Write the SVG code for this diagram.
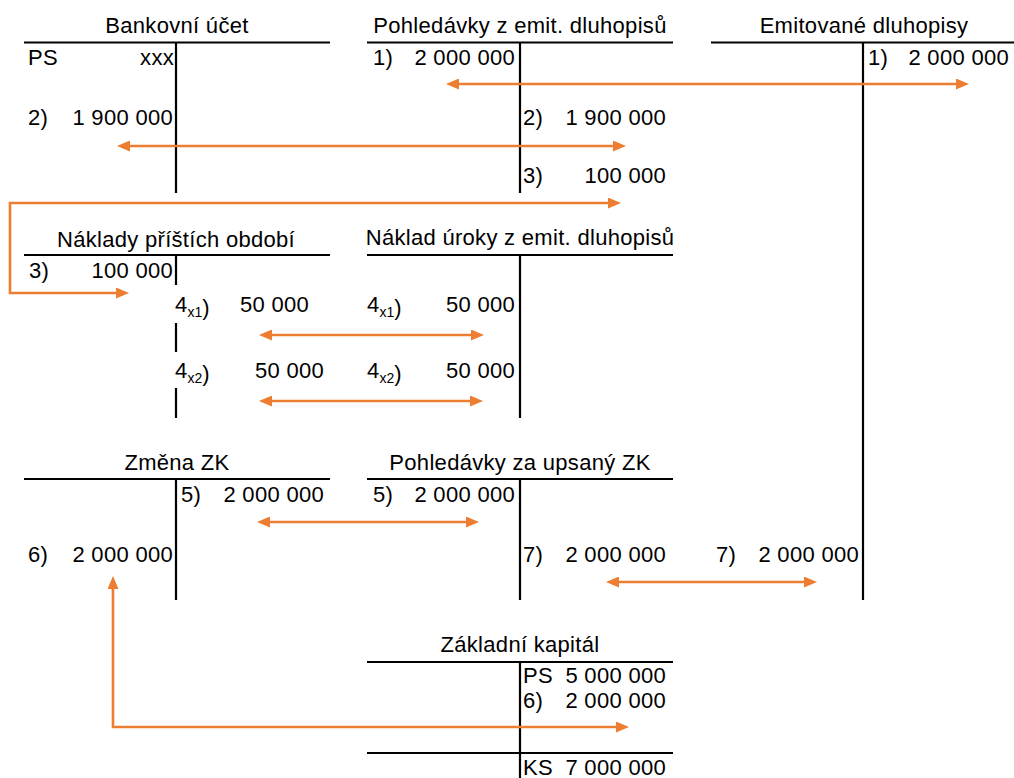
<svg xmlns="http://www.w3.org/2000/svg" width="1014" height="778" viewBox="0 0 1014 778">
<style>
text{font-family:"Liberation Sans",Arial,sans-serif;font-size:22px;fill:#000;letter-spacing:0.3px}
.t{text-anchor:middle}
.r{text-anchor:end}
.sub{font-size:14px;letter-spacing:0}
.k{stroke:#000;stroke-width:2.2;fill:none}
.a{stroke:#ED7D31;stroke-width:2.6;fill:none;marker-start:url(#ah);marker-end:url(#ah)}
</style>
<defs>
<marker id="ah" markerUnits="userSpaceOnUse" markerWidth="13" markerHeight="11" refX="4" refY="5.5" orient="auto-start-reverse">
<path d="M0,0 L13,5.5 L0,11 z" fill="#ED7D31"/>
</marker>
</defs>
<rect width="1014" height="778" fill="#fff"/>

<g id="bankovni-ucet">
<text class="t" x="177" y="33">Bankovní účet</text>
<path class="k" d="M24,42.5 H330 M176,42.5 V193"/>
<text x="28" y="65">PS</text>
<text class="r" x="174" y="65">xxx</text>
<text x="28" y="125">2)</text>
<text class="r" x="173" y="125">1 900 000</text>
</g>

<g id="pohledavky-z-emit">
<text class="t" x="520" y="33">Pohledávky z emit. dluhopisů</text>
<path class="k" d="M367,42.5 H673 M520,42.5 V193"/>
<text x="373" y="65">1)</text>
<text class="r" x="515" y="65">2 000 000</text>
<text x="523" y="125">2)</text>
<text class="r" x="666" y="125">1 900 000</text>
<text x="523" y="183">3)</text>
<text class="r" x="666" y="183">100 000</text>
</g>

<g id="emitovane-dluhopisy">
<text class="t" x="864" y="33">Emitované dluhopisy</text>
<path class="k" d="M711,42.5 H1014 M863,42.5 V600"/>
<text x="868" y="65">1)</text>
<text class="r" x="1009" y="65">2 000 000</text>
</g>

<g id="naklady-pristich-obdobi">
<text class="t" x="176" y="247">Náklady příštích období</text>
<path class="k" d="M24,255 H330 M176,255 V285 M176,323 V352 M176,388 V418"/>
<text x="29" y="278">3)</text>
<text class="r" x="173" y="278">100 000</text>
<text x="175" y="312">4<tspan class="sub" dy="5">x1</tspan><tspan dy="-2">)</tspan></text>
<text class="r" x="309" y="312">50 000</text>
<text x="175" y="378">4<tspan class="sub" dy="5">x2</tspan><tspan dy="-2">)</tspan></text>
<text class="r" x="324" y="378">50 000</text>
</g>

<g id="naklad-uroky">
<text class="t" x="520" y="245">Náklad úroky z emit. dluhopisů</text>
<path class="k" d="M367,255 H673 M520,255 V418"/>
<text x="367" y="312">4<tspan class="sub" dy="5">x1</tspan><tspan dy="-2">)</tspan></text>
<text class="r" x="515" y="312">50 000</text>
<text x="367" y="378">4<tspan class="sub" dy="5">x2</tspan><tspan dy="-2">)</tspan></text>
<text class="r" x="515" y="378">50 000</text>
</g>

<g id="zmena-zk">
<text class="t" x="177" y="470">Změna ZK</text>
<path class="k" d="M24,479 H330 M176,479 V600"/>
<text x="181" y="502">5)</text>
<text class="r" x="324" y="502">2 000 000</text>
<text x="28" y="562">6)</text>
<text class="r" x="173" y="562">2 000 000</text>
</g>

<g id="pohledavky-za-upsany-zk">
<text class="t" x="520" y="470">Pohledávky za upsaný ZK</text>
<path class="k" d="M367,479 H673 M520,479 V600"/>
<text x="373" y="502">5)</text>
<text class="r" x="515" y="502">2 000 000</text>
<text x="523" y="562">7)</text>
<text class="r" x="666" y="562">2 000 000</text>
</g>

<g id="emitovane-dluhopisy-7">
<text x="716" y="562">7)</text>
<text class="r" x="859" y="562">2 000 000</text>
</g>

<g id="zakladni-kapital">
<text class="t" x="520" y="652">Základní kapitál</text>
<path class="k" d="M367,662 H673 M520,662 V778 M367,753 H673"/>
<text x="523" y="683">PS</text>
<text class="r" x="666" y="683">5 000 000</text>
<text x="523" y="708">6)</text>
<text class="r" x="666" y="708">2 000 000</text>
<text x="523" y="775">KS</text>
<text class="r" x="666" y="775">7 000 000</text>
</g>

<g id="connectors">
<path class="a" d="M455,84 H960"/>
<path class="a" d="M126,146 H617"/>
<path class="a" d="M612,203 H10 V293 H120"/>
<path class="a" d="M268,335 H475"/>
<path class="a" d="M268,401 H474"/>
<path class="a" d="M266,522 H470"/>
<path class="a" d="M615,582 H808"/>
<path class="a" d="M113,585 V727 H620"/>
</g>
</svg>
